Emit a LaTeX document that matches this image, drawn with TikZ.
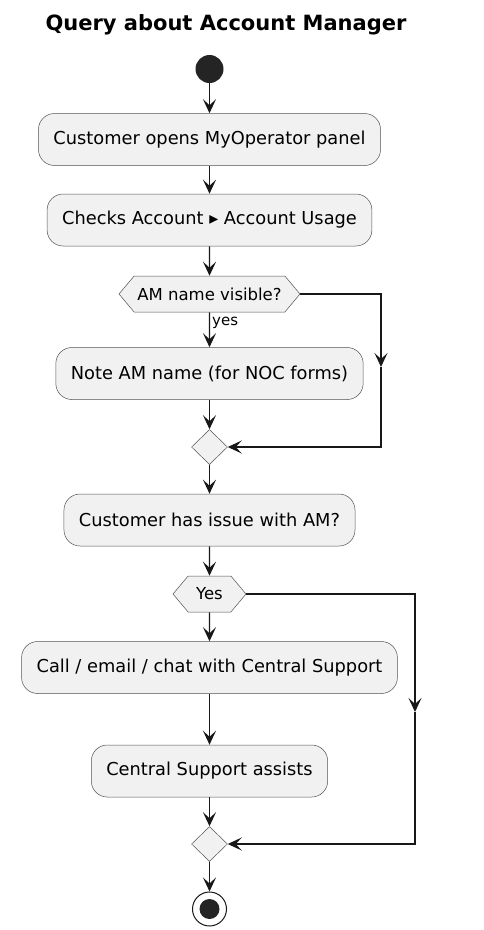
\documentclass[tikz,border=0pt]{standalone}
\usepackage{fontspec}
\setmainfont{DejaVu Sans}
\usetikzlibrary{arrows.meta, positioning, shapes.geometric, shapes.symbols}

\definecolor{boxfill}{HTML}{F1F1F1}
\definecolor{ink}{HTML}{181818}

\begin{document}
\begin{tikzpicture}[x=1pt, y=-1pt,
    act/.style={draw=ink!75, line width=0.5pt, fill=boxfill, rounded corners=16pt,
        minimum height=52pt, inner xsep=15pt, font=\fontsize{17.8}{20}\selectfont},
    cond/.style={draw=ink!75, line width=0.5pt, fill=boxfill, signal, signal to=west and east,
        signal pointer angle=100, minimum height=36pt, inner xsep=3pt, inner ysep=2pt,
        font=\fontsize{16.5}{19}\selectfont},
    merge/.style={draw=ink!75, line width=0.5pt, fill=boxfill, diamond,
        minimum width=36pt, minimum height=35pt, inner sep=0pt},
    flow/.style={draw=ink, line width=1.3pt, -{Stealth[length=14pt, width=13pt, inset=6pt]}},
]
  \useasboundingbox (0,0) rectangle (484,930);

  % Title
  \node[font=\bfseries\fontsize{21}{24}\selectfont] (title) at (226,25) {Query about Account Manager};

  % Start / end
  \node[circle, fill=ink!95, minimum size=28pt, inner sep=0pt] (start) at (209.5,69) {};
  \node[circle, draw=ink, line width=1pt, fill=white, minimum size=34pt, inner sep=0pt] (stop) at (209.5,909) {};
  \node[circle, fill=ink!95, minimum size=20pt, inner sep=0pt] (stopdot) at (stop) {};

  % Activities
  \node[act] (open) at (209.5,139.5) {Customer opens MyOperator panel};
  \node[act] (checks) at (209.5,220) {Checks Account ▸ Account Usage};
  \node[cond, minimum width=181pt] (amvis) at (209.5,294) {AM name visible?};
  \node[act] (note) at (209.5,373.5) {Note AM name (for NOC forms)};
  \node[merge] (m1) at (209.5,447) {};
  \node[act] (issue) at (209.5,520) {Customer has issue with AM?};
  \node[cond, minimum width=73pt] (yes) at (209.5,594) {Yes};
  \node[act] (call) at (209.5,667.5) {Call / email / chat with Central Support};
  \node[act] (assist) at (209.5,771) {Central Support assists};
  \node[merge] (m2) at (209.5,844) {};

  % Bends of the side branches
  \coordinate (r1) at (381,294);
  \coordinate (r1mid) at (381,367);
  \coordinate (r2) at (415,594);
  \coordinate (r2mid) at (415,712);

  % Main flow
  \draw[flow] (start) -- (open);
  \draw[flow] (open) -- (checks);
  \draw[flow] (checks) -- (amvis);
  \draw[flow] (amvis) -- node[pos=0.3, anchor=west, inner sep=2pt, font=\fontsize{15}{17}\selectfont] {yes} (note);
  \draw[flow] (note) -- (m1);
  \draw[flow] (m1) -- (issue);
  \draw[flow] (issue) -- (yes);
  \draw[flow] (yes) -- (call);
  \draw[flow] (call) -- (assist);
  \draw[flow] (assist) -- (m2);
  \draw[flow] (m2) -- (stop);

  % Side branches
  \draw[flow] (amvis.east) -- (r1) -- (r1mid);
  \draw[flow] (r1mid) -- (r1 |- m1) -- (m1.east);
  \draw[flow] (yes.east) -- (r2) -- (r2mid);
  \draw[flow] (r2mid) -- (r2 |- m2) -- (m2.east);
\end{tikzpicture}
\end{document}
